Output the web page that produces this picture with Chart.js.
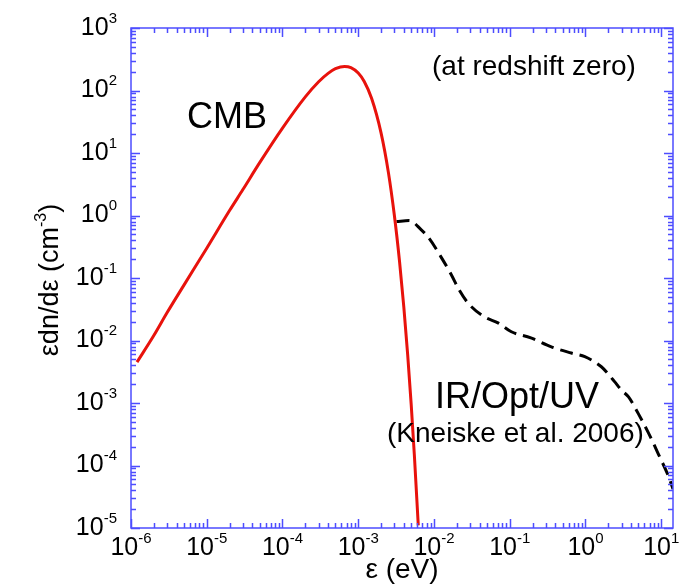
<!DOCTYPE html>
<html lang="en">
<head>
<meta charset="UTF-8">
<title>CMB and EBL photon density</title>
<script src="https://cdn.jsdelivr.net/npm/chart.js"></script>
<style>
  html, body { margin: 0; background: #fff; }
  #wrap { width: 692px; height: 588px; }
</style>
</head>
<body>
<div id="wrap"><canvas id="chart" width="692" height="588"></canvas></div>
<script>
// photon energy (eV) and eps*dn/deps (cm^-3)
const cmbEnergy = [1.2e-6, 2e-6, 3e-6, 5e-6, 1e-5, 2e-5, 3e-5, 5e-5, 1e-4, 2e-4, 3e-4, 4e-4, 5e-4, 6.6e-4,
                   8e-4, 1e-3, 1.2e-3, 1.5e-3, 2e-3, 2.5e-3, 3e-3, 3.5e-3, 4e-3, 4.5e-3, 5e-3, 5.5e-3, 6.2e-3];
const cmbDensity = [4.5e-3, 0.012, 0.028, 0.077, 0.30, 1.2, 2.6, 7.0, 25, 79, 138, 188, 223, 243,
                    232, 190, 139, 75, 21, 4.9, 1.0, 0.19, 0.034, 5.8e-3, 9.5e-4, 1.5e-4, 1.1e-5];

const eblEnergy = [3.2e-3, 4.7e-3, 6.8e-3, 8.5e-3, 0.0123, 0.017, 0.0214, 0.028, 0.046, 0.071, 0.105, 0.19,
                   0.355, 0.65, 0.98, 1.62, 2.0, 2.42, 3.0, 3.7, 5.0, 6.8, 9.3, 12.6, 14.3];
const eblDensity = [0.80, 0.83, 0.59, 0.44, 0.22, 0.112, 0.065, 0.040, 0.024, 0.019, 0.0138, 0.011,
                    0.0079, 0.0063, 0.0055, 0.0038, 0.0029, 0.0022, 0.0016, 0.00125, 6.7e-4, 3.3e-4, 1.47e-4, 6.5e-5, 4.2e-5];

// decade exponents used for the tick labels
const xTickExps = [-6, -5, -4, -3, -2, -1, 0, 1];
const yTickExps = [-5, -4, -3, -2, -1, 0, 1, 2, 3];

const FONT = '"Liberation Sans", Arial, Helvetica, sans-serif';
const AXIS_BLUE = '#4d4dff';

const toPoints = (xs, ys) => xs.map((v, i) => ({ x: v, y: ys[i] }));

// draws "10" with a raised exponent; align = 'center' or 'right'
function drawPower(ctx, exp, px, baseY, align) {
  ctx.font = '25px ' + FONT;
  const wBase = ctx.measureText('10').width;
  ctx.font = '15px ' + FONT;
  const wExp = ctx.measureText(String(exp)).width;
  const total = wBase + wExp;
  const left = align === 'center' ? px - total / 2 : px - total;
  ctx.textAlign = 'left';
  ctx.textBaseline = 'alphabetic';
  ctx.font = '25px ' + FONT;
  ctx.fillText('10', left, baseY);
  ctx.font = '15px ' + FONT;
  ctx.fillText(String(exp), left + wBase, baseY - 12);
}

const framePlugin = {
  id: 'frame',
  afterDatasetsDraw(chart) {
    const { ctx, chartArea: a, scales: { x, y } } = chart;
    ctx.save();
    ctx.strokeStyle = AXIS_BLUE;
    ctx.lineWidth = 1.5;
    ctx.strokeRect(a.left, a.top, a.right - a.left, a.bottom - a.top);

    // inward ticks on all four sides
    ctx.beginPath();
    for (let e = -6; e <= 1; e++) {
      for (let m = 1; m <= 9; m++) {
        const v = m * Math.pow(10, e);
        if (v > x.max * 1.0001) break;
        const px = Math.round(x.getPixelForValue(v)) + 0.5;
        const len = m === 1 ? 9 : 5;
        ctx.moveTo(px, a.bottom); ctx.lineTo(px, a.bottom - len);
        ctx.moveTo(px, a.top); ctx.lineTo(px, a.top + len);
      }
    }
    for (let e = -5; e <= 3; e++) {
      for (let m = 1; m <= 9; m++) {
        const v = m * Math.pow(10, e);
        if (v > y.max * 1.0001) break;
        const py = Math.round(y.getPixelForValue(v)) + 0.5;
        const len = m === 1 ? 9 : 5;
        ctx.moveTo(a.left, py); ctx.lineTo(a.left + len, py);
        ctx.moveTo(a.right, py); ctx.lineTo(a.right - len, py);
      }
    }
    ctx.stroke();

    // tick labels
    ctx.fillStyle = '#000';
    xTickExps.forEach(e => drawPower(ctx, e, x.getPixelForValue(Math.pow(10, e)), a.bottom + 27, 'center'));
    yTickExps.forEach(e => drawPower(ctx, e, a.left - 14, y.getPixelForValue(Math.pow(10, e)) + 6.5, 'right'));

    // axis titles
    ctx.font = '28px ' + FONT;
    ctx.textAlign = 'center';
    ctx.fillText('\u03b5 (eV)', (a.left + a.right) / 2, 578);

    ctx.save();
    ctx.translate(58, (a.top + a.bottom) / 2 + 2);
    ctx.rotate(-Math.PI / 2);
    ctx.font = '27px ' + FONT;
    const main = '\u03b5dn/d\u03b5 (cm';
    const wMain = ctx.measureText(main).width;
    ctx.font = '16px ' + FONT;
    const wSup = ctx.measureText('-3').width;
    ctx.font = '27px ' + FONT;
    const wClose = ctx.measureText(')').width;
    const start = -(wMain + wSup + wClose) / 2;
    ctx.textAlign = 'left';
    ctx.fillText(main, start, 0);
    ctx.font = '16px ' + FONT;
    ctx.fillText('-3', start + wMain, -12);
    ctx.font = '27px ' + FONT;
    ctx.fillText(')', start + wMain + wSup, 0);
    ctx.restore();

    // annotations
    ctx.textAlign = 'left';
    ctx.font = '36px ' + FONT;
    ctx.fillText('CMB', 187, 128);
    ctx.fillText('IR/Opt/UV', 435, 408);
    ctx.font = '28px ' + FONT;
    ctx.fillText('(at redshift zero)', 432, 75);
    ctx.fillText('(Kneiske et al. 2006)', 387, 442);
    ctx.restore();
  }
};

new Chart(document.getElementById('chart'), {
  type: 'scatter',
  data: {
    datasets: [
      {
        label: 'CMB',
        data: toPoints(cmbEnergy, cmbDensity),
        showLine: true,
        borderColor: '#e8120c',
        borderWidth: 3,
        pointRadius: 0,
        cubicInterpolationMode: 'monotone'
      },
      {
        label: 'IR/Opt/UV (Kneiske et al. 2006)',
        data: toPoints(eblEnergy, eblDensity),
        showLine: true,
        borderColor: '#000',
        borderWidth: 3,
        borderDash: [13, 7],
        pointRadius: 0,
        cubicInterpolationMode: 'monotone'
      }
    ]
  },
  options: {
    responsive: false,
    animation: false,
    layout: { padding: { left: 131, right: 19, top: 28, bottom: 60 } },
    plugins: { legend: { display: false }, tooltip: { enabled: false } },
    scales: {
      x: { type: 'logarithmic', min: 1e-6, max: 14.3, display: false },
      y: { type: 'logarithmic', min: 1e-5, max: 1e3, display: false }
    }
  },
  plugins: [framePlugin]
});
</script>
</body>
</html>
